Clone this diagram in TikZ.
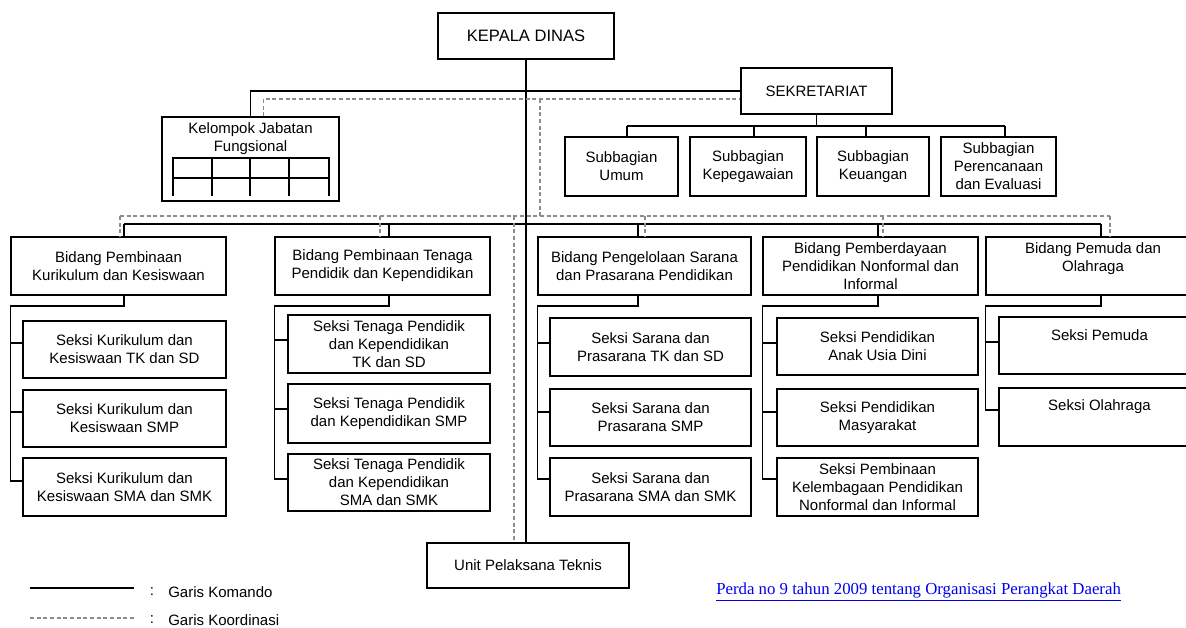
\documentclass[tikz,border=0pt]{standalone}
\usepackage{fontspec}
\setmainfont{Liberation Sans}
\newfontfamily\perdafont{Liberation Serif}
\definecolor{garisabu}{RGB}{140,140,140}
\definecolor{perdablue}{RGB}{0,0,238}

\begin{document}
\begin{tikzpicture}[x=0.75pt,y=0.75pt,yscale=-1,xscale=1,
  box/.style 2 args={draw, line width=1pt, align=center, inner sep=0pt,
    minimum width=#1*0.75pt, minimum height=#2*0.75pt,
    font=\fontsize{11.25}{13.5}\selectfont},
  txt/.style={align=center, inner sep=0pt, font=\fontsize{11.25}{13.5}\selectfont},
  komando/.style={line width=1pt},
  koordinasi/.style={garisabu, line width=0.8pt, dash pattern=on 3pt off 2pt}]
\useasboundingbox (0,0) rectangle (1186,628);
\clip (0,0) rectangle (1186,628);

% kepala, sekretariat, kelompok jabatan
\node[box={176}{46}, font=\fontsize{12.4}{15}\selectfont] (kd) at (526,36) {KEPALA DINAS};
\node[box={151}{46}] (sek) at (816.5,91) {SEKRETARIAT};
\node[box={177}{84}] (kel) at (250.5,159) {};
\node[txt] (keltxt) at (250.5,139) {Kelompok Jabatan\\Fungsional};
\foreach \x in {173,212,250,289,329} \draw[komando] (\x,157) -- (\x,196);
\draw[komando] (173,158) -- (329,158) (173,178) -- (329,178);

% subbagian
\node[box={113}{59}] (sb1) at (621.5,166.5) {Subbagian\\Umum};
\node[box={116}{59}] (sb2) at (748,166.5) {Subbagian\\Kepegawaian};
\node[box={112}{59}] (sb3) at (873,166.5) {Subbagian\\Keuangan};
\node[box={115}{59}] (sb4) at (998.5,166.5) {Subbagian\\Perencanaan\\dan Evaluasi};

% bidang
\node[box={215}{58}] (b1) at (118.5,266) {Bidang Pembinaan\\Kurikulum dan Kesiswaan};
\node[box={215}{58}] (b2) at (382.5,266) {Bidang Pembinaan Tenaga\\Pendidik dan Kependidikan};
\node[box={213}{58}] (b3) at (644.5,266) {Bidang Pengelolaan Sarana\\dan Prasarana Pendidikan};
\node[box={215}{58}] (b4) at (870.5,266) {Bidang Pemberdayaan\\Pendidikan Nonformal dan\\Informal};
\node[box={214}{58}] (b5) at (1093,266) {};
\node[txt] (b5txt) at (1093,259) {Bidang Pemuda dan\\Olahraga};

% seksi
\node[box={203}{57}] (s11) at (124.5,349.5) {Seksi Kurikulum dan\\Kesiswaan TK dan SD};
\node[box={203}{57}] (s12) at (124.5,418.5) {Seksi Kurikulum dan\\Kesiswaan SMP};
\node[box={203}{58}] (s13) at (124.5,487) {Seksi Kurikulum dan\\Kesiswaan SMA dan SMK};
\node[box={202}{58}] (s21) at (389,344) {Seksi Tenaga Pendidik\\dan Kependidikan\\TK dan SD};
\node[box={202}{59}] (s22) at (389,413.5) {Seksi Tenaga Pendidik\\dan Kependidikan SMP};
\node[box={202}{57}] (s23) at (389,482.5) {Seksi Tenaga Pendidik\\dan Kependidikan\\SMA dan SMK};
\node[box={201}{58}] (s31) at (650.5,347) {Seksi Sarana dan\\Prasarana TK dan SD};
\node[box={201}{57}] (s32) at (650.5,417.5) {Seksi Sarana dan\\Prasarana SMP};
\node[box={201}{58}] (s33) at (650.5,487) {Seksi Sarana dan\\Prasarana SMA dan SMK};
\node[box={201}{57}] (s41) at (877.5,346.5) {Seksi Pendidikan\\Anak Usia Dini};
\node[box={201}{57}] (s42) at (877.5,417.5) {Seksi Pendidikan\\Masyarakat};
\node[box={201}{58}] (s43) at (877.5,487) {Seksi Pembinaan\\Kelembagaan Pendidikan\\Nonformal dan Informal};
\node[box={201}{57}] (s51) at (1099.5,345.5) {};
\node[txt] (s51txt) at (1099.5,335) {Seksi Pemuda};
\node[box={201}{58}] (s52) at (1099.5,417) {};
\node[txt] (s52txt) at (1099.5,407) {Seksi Olahraga};

\node[box={202}{45}] (upt) at (528,565.5) {Unit Pelaksana Teknis};

% garis komando
\coordinate (sbusL) at (627,126);
\coordinate (sbusR) at (1005,126);
\coordinate (bbusL) at (124,224);
\coordinate (bbusR) at (1101,224);
\draw[komando] (kd.south) -- (kd.south |- upt.north);
\draw[komando] (kel.north) |- (sek.west);
\draw[komando] (sek.south) -- (sek.south |- sbusL);
\draw[komando] (sbusL) -- (sbusR);
\foreach \n/\x in {sb1/627,sb2/754,sb3/866,sb4/1005}
  \draw[komando] (\x,126) -- (\x,126 |- \n.north);
\draw[komando] (bbusL) -- (bbusR);
\foreach \b/\x/\y in {b1/124/481,b2/389/479,b3/638/479,b4/878/479,b5/1101/410}{
  \draw[komando] (\x,224) -- (\x,224 |- \b.north);
  \draw[komando] (\x,224 |- \b.south) -- (\x,306) -| (\b.west |- 0,\y);
}
\foreach \b/\s/\y in {b1/s11/343,b1/s12/412,b1/s13/481,b2/s21/340,b2/s22/409,b2/s23/479,
  b3/s31/343,b3/s32/412,b3/s33/479,b4/s41/343,b4/s42/412,b4/s43/479,b5/s51/342,b5/s52/410}
  \draw[komando] (\b.west |- 0,\y) -- (\s.west |- 0,\y);

% garis koordinasi
\coordinate (dsek) at (540,99);
\coordinate (dbusL) at (120,216);
\coordinate (dbusR) at (1110,216);
\draw[koordinasi] ([xshift=9.4pt]kel.north) |- ([yshift=6pt]sek.west);
\draw[koordinasi] (dsek) -- (dsek |- dbusL);
\draw[koordinasi] (dbusL) -- (dbusR);
\foreach \b/\x in {b1/120,b2/380,b3/645,b4/883,b5/1110}
  \draw[koordinasi] (\x,216) -- (\x,216 |- \b.north);
\draw[koordinasi] (514,216) -- (514,216 |- upt.north);

% keterangan
\coordinate (kom1) at (30,588);
\coordinate (kom2) at (134,588);
\coordinate (koo1) at (30,618);
\coordinate (koo2) at (134,618);
\draw[komando] (kom1) -- (kom2);
\draw[koordinasi] (koo1) -- (koo2);
\node[txt] (kolon1) at (152,592) {:};
\node[txt] (kolon2) at (152,620) {:};
\node[txt, anchor=west] (lkom) at (168,592) {Garis Komando};
\node[txt, anchor=west] (lkoo) at (168,620) {Garis Koordinasi};

\node[anchor=west, inner sep=0pt, text=perdablue, font=\perdafont\fontsize{12.6}{15}\selectfont] (perda) at (716,592) {\underline{Perda no 9 tahun 2009 tentang Organisasi Perangkat Daerah}};

\end{tikzpicture}
\end{document}
